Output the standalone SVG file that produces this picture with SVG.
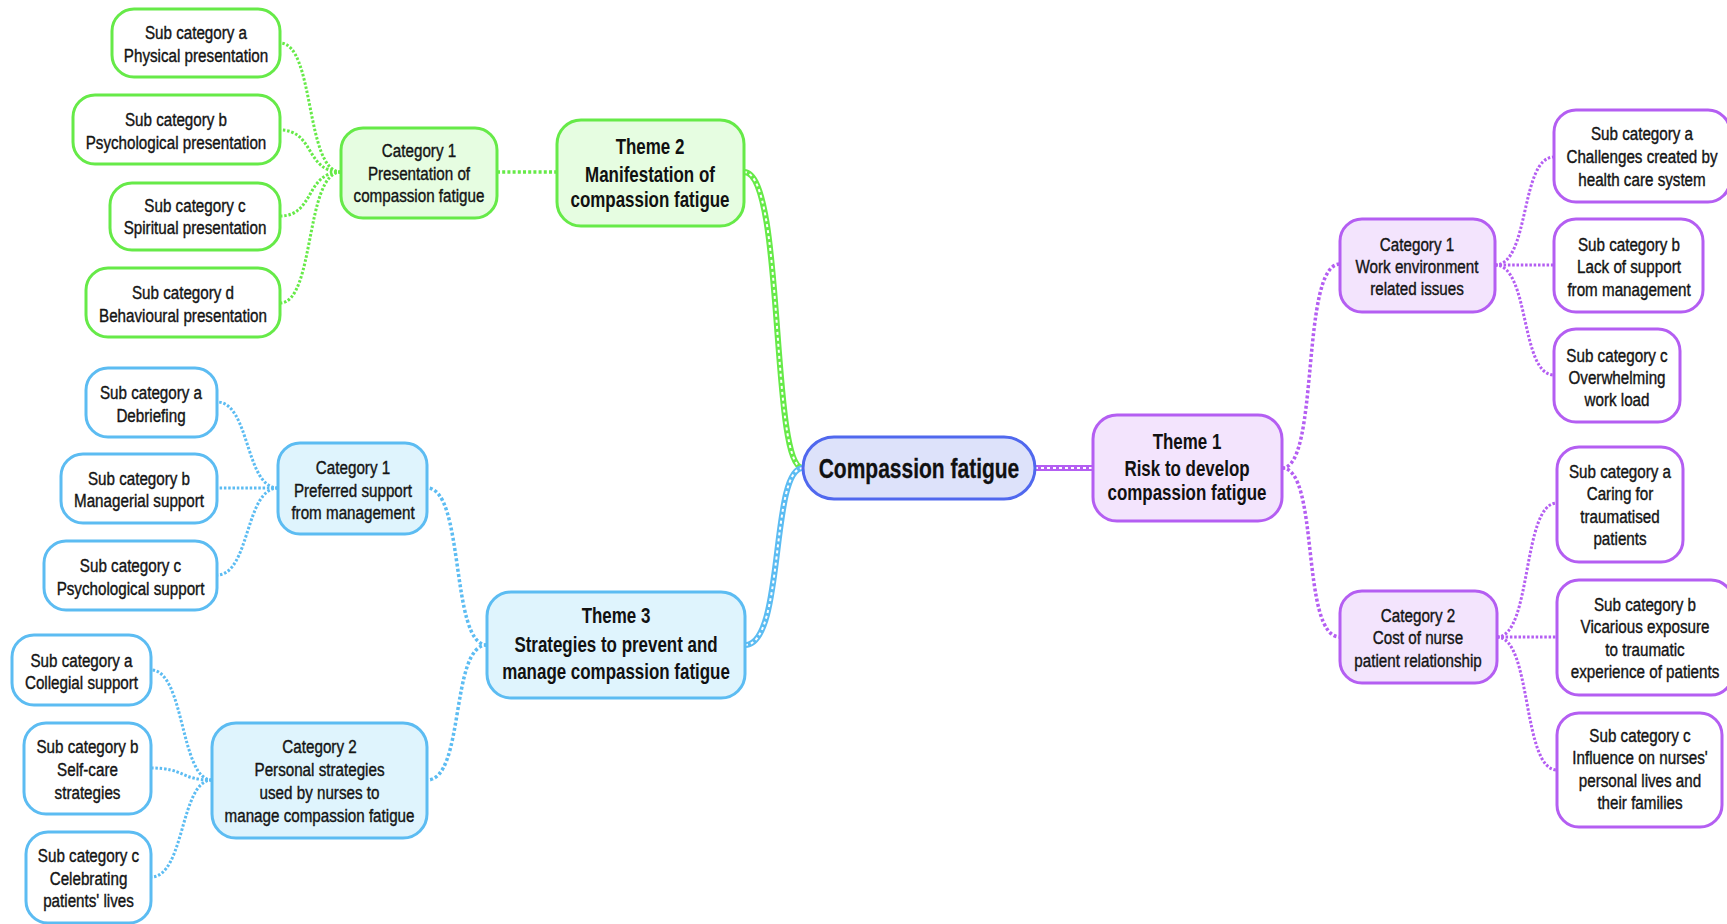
<svg xmlns="http://www.w3.org/2000/svg" width="1727" height="924" viewBox="0 0 1727 924">
  <style>
    .t { font-family: "Liberation Sans", Arial, sans-serif; font-size: 19px; fill: #141414; stroke: #141414; stroke-width: 0.4; text-anchor: middle; }
    .tb { font-family: "Liberation Sans", Arial, sans-serif; font-size: 22px; font-weight: bold; fill: #111; text-anchor: middle; }
    .tc { font-family: "Liberation Sans", Arial, sans-serif; font-size: 28px; font-weight: bold; fill: #111; stroke: #111; stroke-width: 0.3; text-anchor: middle; }
    .box { stroke-width: 3; }
    .g { stroke: #66ea48; }
    .b { stroke: #5cbcf2; }
    .p { stroke: #b45ef2; }
    .gf { fill: #e6fde1; }
    .bf { fill: #dff4fd; }
    .pf { fill: #f3e4fd; }
    .wf { fill: #ffffff; }
    .trunk { fill: none; stroke-width: 6; }
    .core { fill: none; stroke: #ffffff; stroke-width: 2; stroke-dasharray: 3 3; }
    .branch { fill: none; stroke-width: 3.5; stroke-dasharray: 3 2.2; }
    .twig { fill: none; stroke-width: 3; stroke-dasharray: 2.5 1.8; }
  </style>

  <!-- connectors -->
  <g id="connectors">
    <!-- central to themes -->
    <path class="trunk g" d="M744,172 C785,172 770,468 803,468"/>
    <path class="core" d="M744,172 C785,172 770,468 803,468"/>
    <path class="trunk b" d="M745,645 C785,645 770,468 803,468"/>
    <path class="core" d="M745,645 C785,645 770,468 803,468"/>
    <path class="trunk p" d="M1035,468 L1093,468"/>
    <path class="core" d="M1035,468 L1093,468"/>

    <!-- themes to categories -->
    <path class="branch g" d="M497,172 L557,172"/>
    <path class="branch b" d="M487,645 C450,645 465,488 427,488"/>
    <path class="branch b" d="M487,645 C450,645 465,780 427,780"/>
    <path class="branch p" d="M1282,468 C1320,468 1300,264 1340,264"/>
    <path class="branch p" d="M1282,468 C1320,468 1300,637 1340,637"/>

    <!-- green categories to subcategories -->
    <path class="twig g" d="M341,172 C305,172 315,43 280,43"/>
    <path class="twig g" d="M341,172 C305,172 315,130 280,130"/>
    <path class="twig g" d="M341,172 C305,172 315,216 280,216"/>
    <path class="twig g" d="M341,172 C305,172 315,303 280,303"/>

    <!-- blue categories to subcategories -->
    <path class="twig b" d="M278,488 C245,488 250,402 217,402"/>
    <path class="twig b" d="M278,488 L217,488"/>
    <path class="twig b" d="M278,488 C245,488 250,575 217,575"/>
    <path class="twig b" d="M212,780 C180,780 185,670 151,670"/>
    <path class="twig b" d="M212,780 C180,780 185,768 151,768"/>
    <path class="twig b" d="M212,780 C180,780 185,877 151,877"/>

    <!-- purple categories to subcategories -->
    <path class="twig p" d="M1495,265 C1530,265 1520,157 1554,157"/>
    <path class="twig p" d="M1495,265 L1554,265"/>
    <path class="twig p" d="M1495,265 C1530,265 1520,375 1554,375"/>
    <path class="twig p" d="M1497,637 C1532,637 1522,503 1557,503"/>
    <path class="twig p" d="M1497,637 L1557,637"/>
    <path class="twig p" d="M1497,637 C1532,637 1522,770 1557,770"/>
  </g>

  <!-- central node -->
  <g id="central">
    <rect x="803" y="437" width="232" height="62" rx="31" fill="#dde2fa" stroke="#5068ee" stroke-width="3"/>
    <text class="tc" transform="translate(919 0) scale(0.75 1)"><tspan x="0" y="478">Compassion fatigue</tspan></text>
  </g>

  <!-- Theme 2 branch (green) -->
  <g id="theme2">
    <rect class="box g gf" x="557" y="120" width="187" height="106" rx="24"/>
    <text class="tb" transform="translate(650 0) scale(0.77 1)"><tspan x="0" y="154">Theme 2</tspan><tspan x="0" y="182">Manifestation of</tspan><tspan x="0" y="207">compassion fatigue</tspan></text>
  </g>
  <g id="t2-cat1">
    <rect class="box g gf" x="341" y="128" width="156" height="90" rx="22"/>
    <text class="t" transform="translate(419 0) scale(0.8 1)"><tspan x="0" y="157">Category 1</tspan><tspan x="0" y="180">Presentation of</tspan><tspan x="0" y="202">compassion fatigue</tspan></text>
  </g>
  <g id="t2-sub-a">
    <rect class="box g wf" x="112" y="9" width="168" height="68" rx="22"/>
    <text class="t" transform="translate(196 0) scale(0.8 1)"><tspan x="0" y="39">Sub category a</tspan><tspan x="0" y="62">Physical presentation</tspan></text>
  </g>
  <g id="t2-sub-b">
    <rect class="box g wf" x="73" y="95" width="207" height="69" rx="22"/>
    <text class="t" transform="translate(176 0) scale(0.8 1)"><tspan x="0" y="126">Sub category b</tspan><tspan x="0" y="149">Psychological presentation</tspan></text>
  </g>
  <g id="t2-sub-c">
    <rect class="box g wf" x="110" y="183" width="170" height="67" rx="22"/>
    <text class="t" transform="translate(195 0) scale(0.8 1)"><tspan x="0" y="212">Sub category c</tspan><tspan x="0" y="234">Spiritual presentation</tspan></text>
  </g>
  <g id="t2-sub-d">
    <rect class="box g wf" x="86" y="268" width="194" height="69" rx="22"/>
    <text class="t" transform="translate(183 0) scale(0.8 1)"><tspan x="0" y="299">Sub category d</tspan><tspan x="0" y="322">Behavioural presentation</tspan></text>
  </g>

  <!-- Theme 3 branch (blue) -->
  <g id="theme3">
    <rect class="box b bf" x="487" y="592" width="258" height="106" rx="24"/>
    <text class="tb" transform="translate(616 0) scale(0.77 1)"><tspan x="0" y="623">Theme 3</tspan><tspan x="0" y="652">Strategies to prevent and</tspan><tspan x="0" y="679">manage compassion fatigue</tspan></text>
  </g>
  <g id="t3-cat1">
    <rect class="box b bf" x="278" y="443" width="149" height="91" rx="22"/>
    <text class="t" transform="translate(353 0) scale(0.8 1)"><tspan x="0" y="474">Category 1</tspan><tspan x="0" y="497">Preferred support</tspan><tspan x="0" y="519">from management</tspan></text>
  </g>
  <g id="t3-cat1-sub-a">
    <rect class="box b wf" x="86" y="368" width="131" height="69" rx="22"/>
    <text class="t" transform="translate(151 0) scale(0.8 1)"><tspan x="0" y="399">Sub category a</tspan><tspan x="0" y="422">Debriefing</tspan></text>
  </g>
  <g id="t3-cat1-sub-b">
    <rect class="box b wf" x="61" y="454" width="156" height="69" rx="22"/>
    <text class="t" transform="translate(139 0) scale(0.8 1)"><tspan x="0" y="485">Sub category b</tspan><tspan x="0" y="507">Managerial support</tspan></text>
  </g>
  <g id="t3-cat1-sub-c">
    <rect class="box b wf" x="44" y="541" width="173" height="69" rx="22"/>
    <text class="t" transform="translate(130.5 0) scale(0.8 1)"><tspan x="0" y="572">Sub category c</tspan><tspan x="0" y="595">Psychological support</tspan></text>
  </g>
  <g id="t3-cat2">
    <rect class="box b bf" x="212" y="723" width="215" height="115" rx="24"/>
    <text class="t" transform="translate(319.5 0) scale(0.8 1)"><tspan x="0" y="753">Category 2</tspan><tspan x="0" y="776">Personal strategies</tspan><tspan x="0" y="799">used by nurses to</tspan><tspan x="0" y="822">manage compassion fatigue</tspan></text>
  </g>
  <g id="t3-cat2-sub-a">
    <rect class="box b wf" x="12" y="635" width="139" height="70" rx="22"/>
    <text class="t" transform="translate(81.5 0) scale(0.8 1)"><tspan x="0" y="667">Sub category a</tspan><tspan x="0" y="689">Collegial support</tspan></text>
  </g>
  <g id="t3-cat2-sub-b">
    <rect class="box b wf" x="24" y="723" width="127" height="91" rx="22"/>
    <text class="t" transform="translate(87.5 0) scale(0.8 1)"><tspan x="0" y="753">Sub category b</tspan><tspan x="0" y="776">Self-care</tspan><tspan x="0" y="799">strategies</tspan></text>
  </g>
  <g id="t3-cat2-sub-c">
    <rect class="box b wf" x="26" y="832" width="125" height="91" rx="22"/>
    <text class="t" transform="translate(88.5 0) scale(0.8 1)"><tspan x="0" y="862">Sub category c</tspan><tspan x="0" y="885">Celebrating</tspan><tspan x="0" y="907">patients' lives</tspan></text>
  </g>

  <!-- Theme 1 branch (purple) -->
  <g id="theme1">
    <rect class="box p pf" x="1093" y="415" width="189" height="106" rx="24"/>
    <text class="tb" transform="translate(1187 0) scale(0.77 1)"><tspan x="0" y="449">Theme 1</tspan><tspan x="0" y="476">Risk to develop</tspan><tspan x="0" y="500">compassion fatigue</tspan></text>
  </g>
  <g id="t1-cat1">
    <rect class="box p pf" x="1340" y="219" width="155" height="93" rx="22"/>
    <text class="t" transform="translate(1417 0) scale(0.8 1)"><tspan x="0" y="251">Category 1</tspan><tspan x="0" y="273">Work environment</tspan><tspan x="0" y="295">related issues</tspan></text>
  </g>
  <g id="t1-cat1-sub-a">
    <rect class="box p wf" x="1554" y="110" width="176" height="92" rx="22"/>
    <text class="t" transform="translate(1642 0) scale(0.8 1)"><tspan x="0" y="140">Sub category a</tspan><tspan x="0" y="163">Challenges created by</tspan><tspan x="0" y="186">health care system</tspan></text>
  </g>
  <g id="t1-cat1-sub-b">
    <rect class="box p wf" x="1554" y="219" width="149" height="93" rx="22"/>
    <text class="t" transform="translate(1629 0) scale(0.8 1)"><tspan x="0" y="251">Sub category b</tspan><tspan x="0" y="273">Lack of support</tspan><tspan x="0" y="296">from management</tspan></text>
  </g>
  <g id="t1-cat1-sub-c">
    <rect class="box p wf" x="1554" y="329" width="126" height="93" rx="22"/>
    <text class="t" transform="translate(1617 0) scale(0.8 1)"><tspan x="0" y="362">Sub category c</tspan><tspan x="0" y="384">Overwhelming</tspan><tspan x="0" y="406">work load</tspan></text>
  </g>
  <g id="t1-cat2">
    <rect class="box p pf" x="1340" y="591" width="157" height="92" rx="22"/>
    <text class="t" transform="translate(1418 0) scale(0.8 1)"><tspan x="0" y="622">Category 2</tspan><tspan x="0" y="644">Cost of nurse</tspan><tspan x="0" y="667">patient relationship</tspan></text>
  </g>
  <g id="t1-cat2-sub-a">
    <rect class="box p wf" x="1557" y="447" width="126" height="115" rx="22"/>
    <text class="t" transform="translate(1620 0) scale(0.8 1)"><tspan x="0" y="478">Sub category a</tspan><tspan x="0" y="500">Caring for</tspan><tspan x="0" y="523">traumatised</tspan><tspan x="0" y="545">patients</tspan></text>
  </g>
  <g id="t1-cat2-sub-b">
    <rect class="box p wf" x="1557" y="580" width="176" height="115" rx="22"/>
    <text class="t" transform="translate(1645 0) scale(0.8 1)"><tspan x="0" y="611">Sub category b</tspan><tspan x="0" y="633">Vicarious exposure</tspan><tspan x="0" y="656">to traumatic</tspan><tspan x="0" y="678">experience of patients</tspan></text>
  </g>
  <g id="t1-cat2-sub-c">
    <rect class="box p wf" x="1557" y="713" width="165" height="114" rx="22"/>
    <text class="t" transform="translate(1640 0) scale(0.8 1)"><tspan x="0" y="742">Sub category c</tspan><tspan x="0" y="764">Influence on nurses'</tspan><tspan x="0" y="787">personal lives and</tspan><tspan x="0" y="809">their families</tspan></text>
  </g>
</svg>
